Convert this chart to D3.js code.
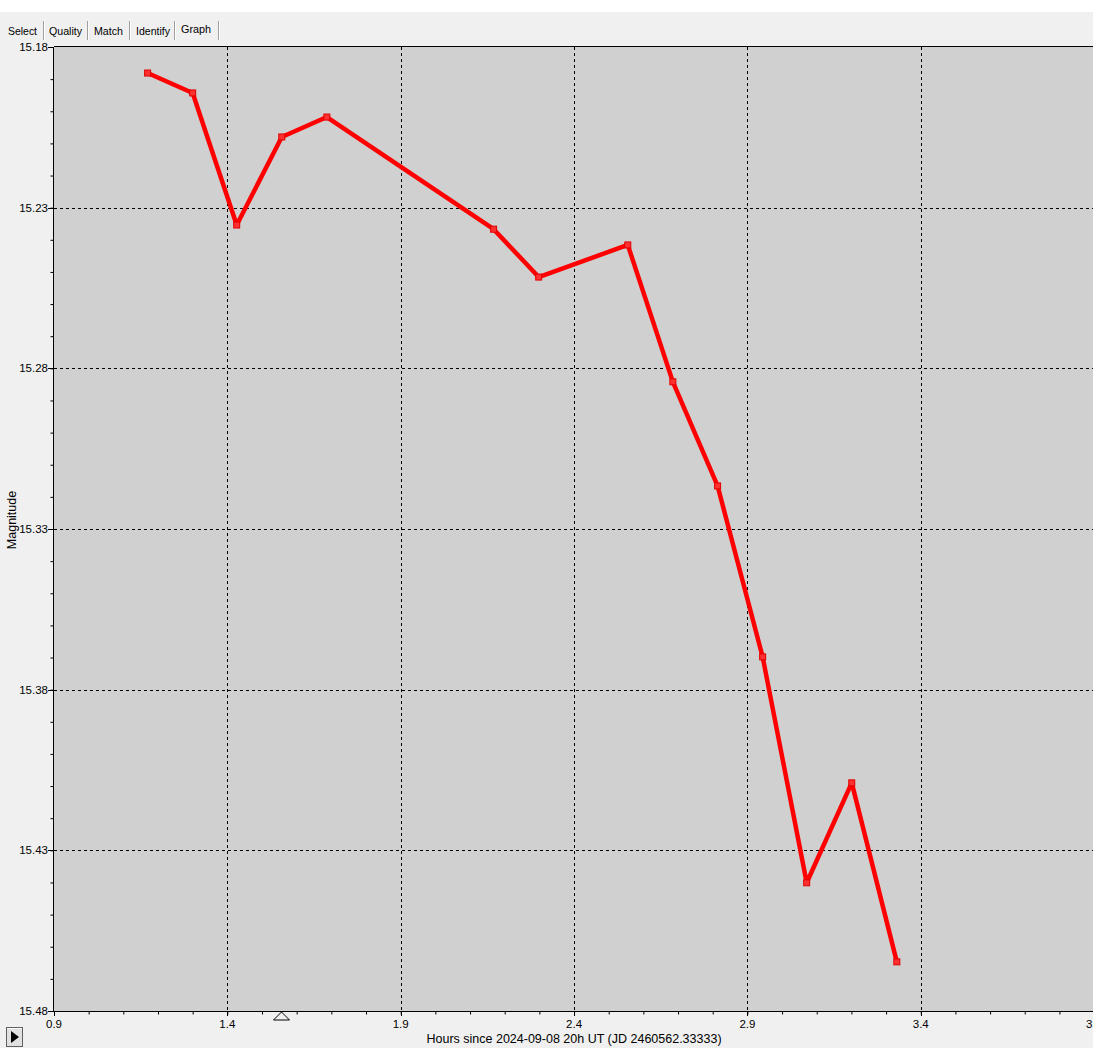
<!DOCTYPE html>
<html><head><meta charset="utf-8">
<script src="https://cdn.jsdelivr.net/npm/d3@7"></script>
<style>
html,body{margin:0;padding:0;background:#fff;}
svg{display:block;}
text{font-family:"Liberation Sans",Arial,sans-serif;}
</style></head>
<body>
<script>
const hours = [1.170, 1.300, 1.427, 1.557, 1.687, 2.168, 2.298, 2.555, 2.685, 2.814, 2.944, 3.071, 3.201, 3.331];
const magnitudes = [15.1881, 15.1943, 15.2354, 15.2080, 15.2018, 15.2367, 15.2516, 15.2416, 15.2842, 15.3166, 15.3698, 15.4401, 15.4090, 15.4647];
const xTickValues = [0.9, 1.4, 1.9, 2.4, 2.9, 3.4, 3.9];
const yTickValues = [15.18, 15.23, 15.28, 15.33, 15.38, 15.43, 15.48];
const tabs = ["Select", "Quality", "Match", "Identify", "Graph"];
const xTitle = "Hours since 2024-09-08 20h UT (JD 2460562.33333)";
const yTitle = "Magnitude";
const markerHour = 1.555;

const W = 1093, H = 1048;
const L = 54, T = 47, B = 1011;
const svg = d3.select("body").append("svg").attr("width", W).attr("height", H);

svg.append("rect").attr("x",0).attr("y",0).attr("width",W).attr("height",H).attr("fill","#f0f0f0");
svg.append("rect").attr("x",0).attr("y",0).attr("width",W).attr("height",12).attr("fill","#ffffff");

// tabs
const tabX = [8, 49, 94, 136, 181];
const tabSep = [43, 87, 129, 174, 218];
tabs.forEach((t,i)=>{
  const sel = i===4;
  svg.append("text").attr("x",tabX[i]).attr("y", sel?33:35).attr("font-size",11).attr("textLength", [29,33,29,34,30][i]).attr("lengthAdjust","spacingAndGlyphs").attr("fill","#000").text(t);
});
tabSep.forEach(x=>{
  svg.append("line").attr("x1",x+0.5).attr("x2",x+0.5).attr("y1",21).attr("y2",40).attr("stroke","#a0a0a0");
  svg.append("line").attr("x1",x+1.5).attr("x2",x+1.5).attr("y1",21).attr("y2",40).attr("stroke","#fff");
});

const x = d3.scaleLinear().domain([0.9, 3.9]).range([L, L + 3*346.7]);
const y = d3.scaleLinear().domain([15.18, 15.48]).range([T, B]);

svg.append("rect").attr("x",L).attr("y",T).attr("width",W-L).attr("height",B-T).attr("fill","#d0d0d0");

// grid
const g = svg.append("g");
xTickValues.slice(1,-1).forEach(v=>{
  g.append("line").attr("x1",Math.round(x(v))+0.5).attr("x2",Math.round(x(v))+0.5).attr("y1",T).attr("y2",B)
   .attr("stroke","#000").attr("stroke-dasharray","3,3");
});
yTickValues.slice(1,-1).forEach(v=>{
  g.append("line").attr("y1",Math.round(y(v))+0.5).attr("y2",Math.round(y(v))+0.5).attr("x1",L).attr("x2",W)
   .attr("stroke","#000").attr("stroke-dasharray","3,3");
});

// axes
const xAxis = d3.axisBottom(x).tickValues(d3.range(0.9, 3.95, 0.1)).tickSize(3).tickFormat("");
const gx = svg.append("g").attr("transform",`translate(0,${B+0.5})`).call(xAxis);
gx.select(".domain").remove();
gx.selectAll("line").attr("stroke","#000");
svg.append("line").attr("x1",L).attr("x2",W).attr("y1",B+0.5).attr("y2",B+0.5).attr("stroke","#000");
xTickValues.forEach(v=>{
  svg.append("line").attr("x1",Math.round(x(v))+0.5).attr("x2",Math.round(x(v))+0.5).attr("y1",B).attr("y2",B+5).attr("stroke","#000");
  svg.append("text").attr("x",x(v)).attr("y",B+17).attr("text-anchor","middle").attr("font-size",11.5).attr("fill","#000").text(v.toFixed(1));
});

const yAxis = d3.axisLeft(y).tickValues(d3.range(0,31).map(i=>15.18+i*0.01)).tickSize(3).tickFormat("");
const gy = svg.append("g").attr("transform",`translate(${L-0.5},0)`).call(yAxis);
gy.select(".domain").remove();
gy.selectAll("line").attr("stroke","#000");
svg.append("line").attr("x1",L-0.5).attr("x2",L-0.5).attr("y1",T).attr("y2",B).attr("stroke","#000");
svg.append("line").attr("x1",L).attr("x2",W).attr("y1",T-0.5).attr("y2",T-0.5).attr("stroke","#000");
yTickValues.forEach(v=>{
  svg.append("line").attr("x1",L-6).attr("x2",L).attr("y1",Math.round(y(v))+0.5).attr("y2",Math.round(y(v))+0.5).attr("stroke","#000");
  svg.append("text").attr("x",L-6).attr("y",y(v)+4).attr("text-anchor","end").attr("font-size",11.5).attr("fill","#000").text(v.toFixed(2));
});

// titles
svg.append("text").attr("x",574).attr("y",1043).attr("text-anchor","middle").attr("font-size",12.5).attr("fill","#000").text(xTitle);
svg.append("text").attr("transform","translate(16,520) rotate(-90)").attr("text-anchor","middle").attr("font-size",12.5).attr("fill","#000").text(yTitle);

// data line
const data = hours.map((h,i)=>({h, m: magnitudes[i]}));
const line = d3.line().x(d=>x(d.h)).y(d=>y(d.m));
svg.append("path").datum(data).attr("d",line).attr("fill","none").attr("stroke","#ff0000").attr("stroke-width",4.5).attr("stroke-linejoin","round");
svg.selectAll(".pt").data(data).enter().append("rect")
  .attr("x",d=>x(d.h)-3).attr("y",d=>y(d.m)-3).attr("width",6).attr("height",6)
  .attr("fill","#ff3030").attr("stroke","#e00000").attr("stroke-width",1);

// triangle marker
const mx = Math.round(x(markerHour))+0.5;
svg.append("path").attr("d",`M${mx},${B+1}L${mx+8},${B+9}L${mx-8},${B+9}Z`).attr("fill","#f0f0f0").attr("stroke","#000");

// play button
svg.append("rect").attr("x",6.5).attr("y",1027.5).attr("width",16).attr("height",19).attr("fill","#e0e0e0").attr("stroke","#606060");
svg.append("line").attr("x1",7).attr("x2",22).attr("y1",1028.5).attr("y2",1028.5).attr("stroke","#fff");
svg.append("path").attr("d","M11,1031L19,1037L11,1043Z").attr("fill","#000");
</script>
</body></html>
